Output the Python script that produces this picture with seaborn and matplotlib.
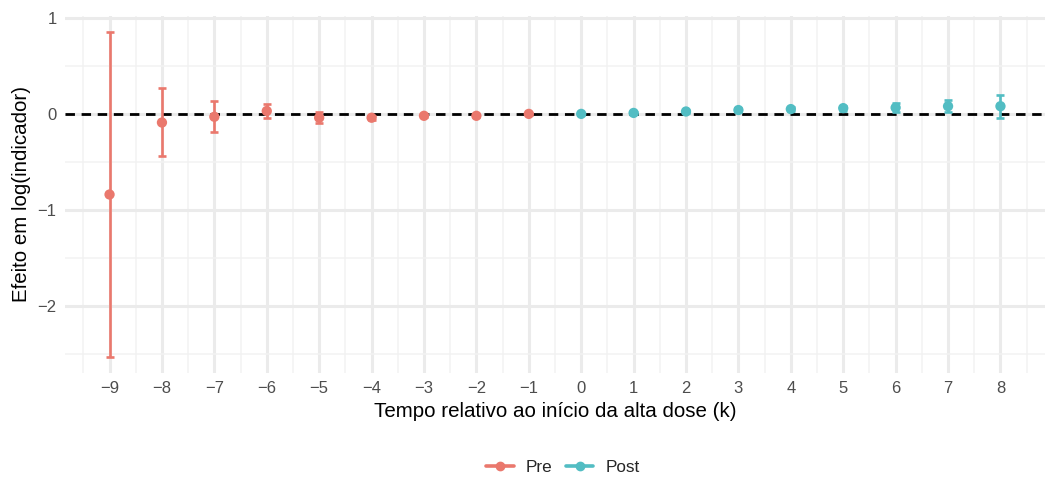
import matplotlib
matplotlib.use("Agg")
import matplotlib.pyplot as plt
import seaborn as sns
import pandas as pd
import numpy as np
from matplotlib.lines import Line2D

# Data
k_pre = [-9, -8, -7, -6, -5, -4, -3, -2, -1]
est_pre = [-0.84, -0.09, -0.03, 0.03, -0.04, -0.04, -0.02, -0.02, 0.00]
lo_pre = [-2.53, -0.44, -0.19, -0.045, -0.10, -0.06, -0.035, -0.03, -0.01]
hi_pre = [0.85, 0.27, 0.13, 0.10, 0.02, -0.02, -0.005, -0.01, 0.01]

k_post = [0, 1, 2, 3, 4, 5, 6, 7, 8]
est_post = [0.00, 0.01, 0.025, 0.04, 0.05, 0.06, 0.065, 0.08, 0.08]
lo_post = [-0.01, 0.0, 0.01, 0.02, 0.03, 0.035, 0.02, 0.02, -0.045]
hi_post = [0.01, 0.02, 0.04, 0.06, 0.07, 0.085, 0.11, 0.145, 0.20]

x_ticks = list(range(-9, 9))
y_ticks = [-2, -1, 0, 1]
labels = ["Pre", "Post"]
colors = {"Pre": "#EA786D", "Post": "#52BDC3"}

df = pd.DataFrame({
    "k": k_pre + k_post,
    "est": est_pre + est_post,
    "lo": lo_pre + lo_post,
    "hi": hi_pre + hi_post,
    "period": ["Pre"] * len(k_pre) + ["Post"] * len(k_post),
})

sns.set_theme(style="white")
plt.rcParams["font.family"] = ["Liberation Sans", "DejaVu Sans"]

fig = plt.figure(figsize=(10.48, 4.82), dpi=100)
ax = fig.add_axes([65 / 1048, 1 - 373 / 482, (1045 - 65) / 1048, (373 - 16) / 482])

# grid
ax.set_xticks(x_ticks)
ax.set_xticks([x + 0.5 for x in range(-10, 9)], minor=True)
ax.set_yticks(y_ticks)
ax.set_yticks([-2.5, -1.5, -0.5, 0.5], minor=True)
ax.grid(which="major", color="#EBEBEB", linewidth=2.2)
ax.grid(which="minor", color="#F2F2F2", linewidth=1.1)
ax.set_axisbelow(True)

ax.axhline(0, color="black", linestyle=(0, (3.4, 2.4)), linewidth=2.0, zorder=2)

for p in labels:
    d = df[df["period"] == p]
    ax.errorbar(d["k"], d["est"],
                yerr=[d["est"] - d["lo"], d["hi"] - d["est"]],
                fmt="none", ecolor=colors[p], elinewidth=1.9,
                capsize=3, capthick=1.9, zorder=3)

sns.scatterplot(data=df, x="k", y="est", hue="period", palette=colors,
                hue_order=labels, s=55, edgecolor="none", ax=ax,
                legend=False, zorder=4)

ax.set_xlim(-9.85, 8.85)
ax.set_ylim(-2.70, 1.02)
ax.set_xticklabels([f"\u2212{abs(x)}" if x < 0 else str(x) for x in x_ticks])
ax.set_yticklabels([f"\u2212{abs(y)}" if y < 0 else str(y) for y in y_ticks])
ax.tick_params(axis="both", which="both", length=0, labelsize=12, labelcolor="#4D4D4D", pad=6)
for s in ax.spines.values():
    s.set_visible(False)

ax.set_xlabel("Tempo relativo ao início da alta dose (k)", fontsize=14.8, color="black", labelpad=4)
ax.set_ylabel("Efeito em log(indicador)", fontsize=14.8, color="black", labelpad=5)

handles = [Line2D([0], [0], color=colors[p], marker="o", markersize=6, linewidth=2.6) for p in labels]
fig.legend(handles, labels, loc="center", bbox_to_anchor=(563 / 1048, 1 - 467 / 482), ncol=2,
           frameon=False, fontsize=12.3, handlelength=1.6, columnspacing=0.8, handletextpad=0.7)

fig.savefig("out.png", dpi=100)
